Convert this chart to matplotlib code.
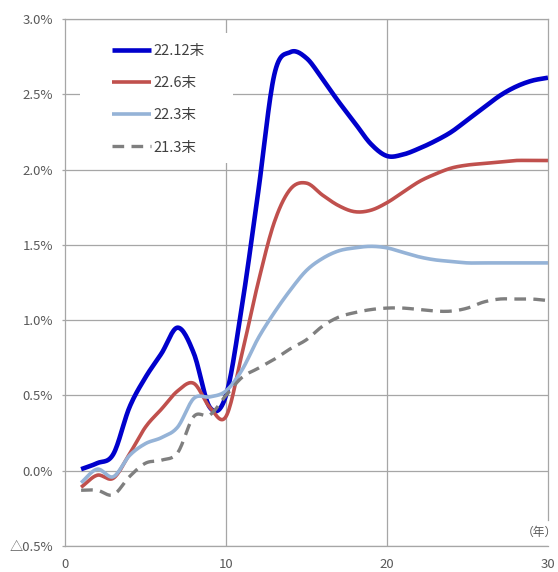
import numpy as np
import matplotlib
matplotlib.use("Agg")
import matplotlib.pyplot as plt
from matplotlib.patches import Rectangle

plt.rcParams['font.family'] = ['Noto Sans CJK JP', 'DejaVu Sans']

# years to maturity and yield change (%) for each reference date
years = list(range(1, 31))

dec22 = [0.01, 0.05, 0.11, 0.42, 0.62, 0.78, 0.95, 0.78, 0.42, 0.50,
         1.10, 1.85, 2.63, 2.78, 2.74, 2.60, 2.45, 2.31, 2.17, 2.09,
         2.10, 2.14, 2.19, 2.25, 2.33, 2.41, 2.49, 2.55, 2.59, 2.61]
jun22 = [-0.11, -0.03, -0.05, 0.11, 0.29, 0.41, 0.53, 0.58, 0.42, 0.36,
         0.78, 1.25, 1.65, 1.87, 1.91, 1.83, 1.76, 1.72, 1.73, 1.78,
         1.85, 1.92, 1.97, 2.01, 2.03, 2.04, 2.05, 2.06, 2.06, 2.06]
mar22 = [-0.08, 0.01, -0.04, 0.10, 0.18, 0.22, 0.29, 0.48, 0.49, 0.53,
         0.67, 0.88, 1.05, 1.20, 1.33, 1.41, 1.46, 1.48, 1.49, 1.48,
         1.45, 1.42, 1.40, 1.39, 1.38, 1.38, 1.38, 1.38, 1.38, 1.38]
mar21 = [-0.13, -0.13, -0.16, -0.04, 0.05, 0.07, 0.12, 0.36, 0.37, 0.50,
         0.62, 0.68, 0.74, 0.81, 0.87, 0.96, 1.02, 1.05, 1.07, 1.08,
         1.08, 1.07, 1.06, 1.06, 1.08, 1.12, 1.14, 1.14, 1.14, 1.13]

labels = ["22.12末", "22.6末", "22.3末", "21.3末"]
y_ticks = [-0.5, 0.0, 0.5, 1.0, 1.5, 2.0, 2.5, 3.0]
y_tick_labels = ["△0.5%", "0.0%", "0.5%", "1.0%", "1.5%", "2.0%", "2.5%", "3.0%"]
x_ticks = [0, 10, 20, 30]


def smooth(x, y, n=16):
    # Catmull-Rom curve through the points, like a smoothed spreadsheet line
    x = np.asarray(x, float)
    y = np.asarray(y, float)
    px = np.concatenate([[2 * x[0] - x[1]], x, [2 * x[-1] - x[-2]]])
    py = np.concatenate([[2 * y[0] - y[1]], y, [2 * y[-1] - y[-2]]])
    t = np.linspace(0, 1, n, endpoint=False)
    xs, ys = [], []
    for i in range(1, len(px) - 2):
        for p, out in ((px, xs), (py, ys)):
            p0, p1, p2, p3 = p[i - 1], p[i], p[i + 1], p[i + 2]
            out.extend(0.5 * (2 * p1 + (-p0 + p2) * t
                              + (2 * p0 - 5 * p1 + 4 * p2 - p3) * t ** 2
                              + (-p0 + 3 * p1 - 3 * p2 + p3) * t ** 3))
    xs.append(x[-1])
    ys.append(y[-1])
    return xs, ys


fig = plt.figure(figsize=(5.58, 5.72), dpi=100)
ax = fig.add_axes([0.1165, 0.0455, 0.8655, 0.9213])

grid_c = "#a6a6a6"
ax.set_xlim(0, 30)
ax.set_ylim(-0.5, 3.0)
ax.set_axisbelow(True)
ax.grid(axis="y", color=grid_c, lw=0.9)
ax.vlines([10, 20], -0.5, 3.0, color=grid_c, lw=0.9, zorder=1)
ax.axvline(30, ymin=0.049, ymax=1, color=grid_c, lw=0.9, zorder=1, clip_on=False)

for side in ("left", "bottom", "top"):
    ax.spines[side].set_color(grid_c)
    ax.spines[side].set_linewidth(0.9)
ax.spines["right"].set_visible(False)

ax.set_yticks(y_ticks)
ax.set_yticklabels(y_tick_labels)
ax.set_xticks(x_ticks)
ax.set_xticklabels([str(v) for v in x_ticks])
ax.tick_params(axis="y", length=2.5, width=0.9, color=grid_c, pad=6,
               labelsize=9.5, labelcolor="#595959")
ax.tick_params(axis="x", length=0, pad=9, labelsize=9.5, labelcolor="#595959")

# white box behind the legend hides the grid there
ax.add_patch(Rectangle((0.031, 0.727), 0.317, 0.246, transform=ax.transAxes,
                       facecolor="white", edgecolor="none", zorder=1.5))

styles = [
    (dec22, dict(color="#0000cc", lw=3.3)),
    (jun22, dict(color="#c0504d", lw=2.6)),
    (mar22, dict(color="#95b3d7", lw=2.6)),
    (mar21, dict(color="#7f7f7f", lw=2.4, ls=(0, (3.5, 2.2)))),
]
handles = []
for (vals, kw), lab in zip(styles, labels):
    sx, sy = smooth(years, vals)
    h, = ax.plot(sx, sy, label=lab, zorder=3, solid_capstyle="butt", **kw)
    handles.append(h)

ax.legend(handles=handles, loc="upper left", bbox_to_anchor=(0.097, 0.952),
          frameon=False, handlelength=2.7, handletextpad=0.12,
          labelspacing=1.24, borderpad=0, borderaxespad=0,
          prop={"size": 10.5}, labelcolor="#404040")

ax.text(1.019, 0.025, "（年）", transform=ax.transAxes, ha="right", va="center",
        fontsize=8.5, color="#595959")

fig.savefig("out.png", dpi=100)
